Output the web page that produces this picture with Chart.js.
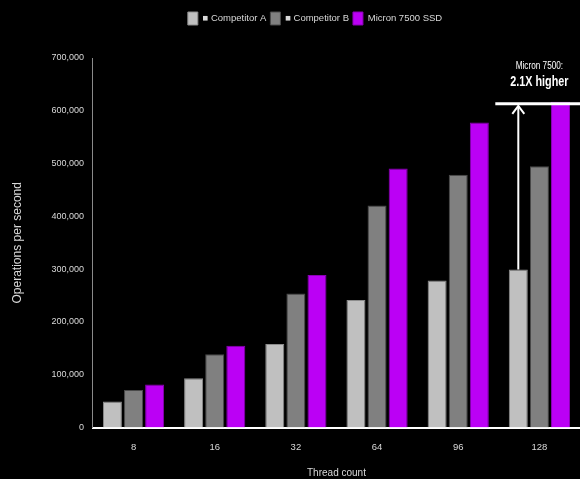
<!DOCTYPE html>
<html>
<head>
<meta charset="utf-8">
<script src="https://cdn.jsdelivr.net/npm/chart.js@4.4.1/dist/chart.umd.min.js"></script>
<style>
  html, body { margin: 0; padding: 0; background: #000; }
  #wrap { width: 580px; height: 479px; }
</style>
</head>
<body>
<div id="wrap"><canvas id="chart"></canvas></div>
<script>
// datos
const threads = ['8', '16', '32', '64', '96', '128'];
const competitorA = [49600, 93700, 158500, 241500, 278700, 299400];
const competitorB = [71000, 139000, 254000, 420800, 478700, 495000];
const micron7500 = [81800, 155000, 289000, 490600, 578000, 617000];
const yTicks = [0, 100000, 200000, 300000, 400000, 500000, 600000, 700000];

const fuente = "'Liberation Sans', 'DejaVu Sans', sans-serif";
const gris = '#d9d9d9';

// espacio extra debajo de la leyenda y leyenda un poco a la derecha
const espacioLeyenda = {
  id: 'espacioLeyenda',
  beforeInit(chart) {
    const leyenda = chart.legend;
    const fitOriginal = leyenda.fit;
    leyenda.fit = function () {
      fitOriginal.call(leyenda);
      this.height += 23;
    };
    const drawOriginal = leyenda.draw;
    leyenda.draw = function () {
      chart.ctx.save();
      chart.ctx.translate(20, 0);
      drawOriginal.call(leyenda);
      chart.ctx.restore();
    };
  }
};

// texto angosto (la fuente original es condensada)
function textoAngosto(ctx, texto, x, y, escala) {
  ctx.save();
  ctx.translate(x, y);
  ctx.scale(escala, 1);
  ctx.fillText(texto, 0, 0);
  ctx.restore();
}

// flecha y texto "2.1X higher"
const anotacion = {
  id: 'anotacion',
  afterDatasetsDraw(chart) {
    const ctx = chart.ctx;
    const y = chart.scales.y;
    const barA = chart.getDatasetMeta(0).data[5];
    const barB = chart.getDatasetMeta(1).data[5];
    const yTop = y.getPixelForValue(micron7500[5]) + 2;
    const yBot = y.getPixelForValue(competitorA[5]);

    ctx.save();
    ctx.strokeStyle = '#ffffff';
    ctx.lineWidth = 3;
    ctx.beginPath();
    ctx.moveTo(barA.x - 23, yTop);
    ctx.lineTo(chart.width, yTop);
    ctx.stroke();

    ctx.lineWidth = 2;
    ctx.beginPath();
    ctx.moveTo(barA.x, yBot);
    ctx.lineTo(barA.x, yTop + 2);
    ctx.stroke();
    ctx.beginPath();
    ctx.moveTo(barA.x - 6, yTop + 10);
    ctx.lineTo(barA.x, yTop + 2);
    ctx.lineTo(barA.x + 6, yTop + 10);
    ctx.stroke();

    ctx.fillStyle = '#ffffff';
    ctx.textAlign = 'center';
    ctx.textBaseline = 'middle';
    ctx.font = '10px ' + fuente;
    textoAngosto(ctx, 'Micron 7500:', barB.x, yTop - 38, 0.82);
    ctx.font = 'bold 15px ' + fuente;
    textoAngosto(ctx, '2.1X higher', barB.x, yTop - 22, 0.72);
    ctx.restore();
  }
};

function serie(label, data, color, borde) {
  return {
    label: label,
    data: data,
    backgroundColor: color,
    borderColor: borde,
    borderWidth: 1,
    barPercentage: 0.9,
    categoryPercentage: 0.78
  };
}

new Chart(document.getElementById('chart'), {
  type: 'bar',
  data: {
    labels: threads,
    datasets: [
      serie('\u25A0 Competitor A', competitorA, '#c0c0c0', '#8c8c8c'),
      serie('\u25A0 Competitor B', competitorB, '#808080', '#4a4a4a'),
      serie('Micron 7500 SSD', micron7500, '#bb00f5', '#8a00b5')
    ]
  },
  options: {
    responsive: true,
    maintainAspectRatio: false,
    animation: false,
    layout: { padding: { top: 8, right: 0, left: 10, bottom: 0 } },
    plugins: {
      tooltip: { enabled: false },
      legend: {
        position: 'top',
        labels: {
          color: gris,
          boxWidth: 10,
          boxHeight: 13,
          padding: 4,
          font: { family: fuente, size: 9.5 }
        }
      }
    },
    scales: {
      x: {
        grid: { display: false, drawTicks: false },
        border: { color: '#ffffff', width: 2 },
        ticks: { color: gris, padding: 14, font: { family: fuente, size: 9.5 } },
        title: { display: true, text: 'Thread count', color: gris, padding: { top: 0, bottom: 0 }, font: { family: fuente, size: 10 } }
      },
      y: {
        min: 0,
        max: 700000,
        afterBuildTicks(axis) { axis.ticks = yTicks.map(v => ({ value: v })); },
        grid: { display: false, drawTicks: false },
        border: { color: '#8a8a8a', width: 1 },
        ticks: {
          color: gris,
          padding: 9,
          font: { family: fuente, size: 9 },
          callback: v => v.toLocaleString('en-US')
        },
        title: { display: true, text: 'Operations per second', color: gris, padding: { top: 0, bottom: 18 }, font: { family: fuente, size: 12 } }
      }
    }
  },
  plugins: [espacioLeyenda, anotacion]
});
</script>
</body>
</html>
